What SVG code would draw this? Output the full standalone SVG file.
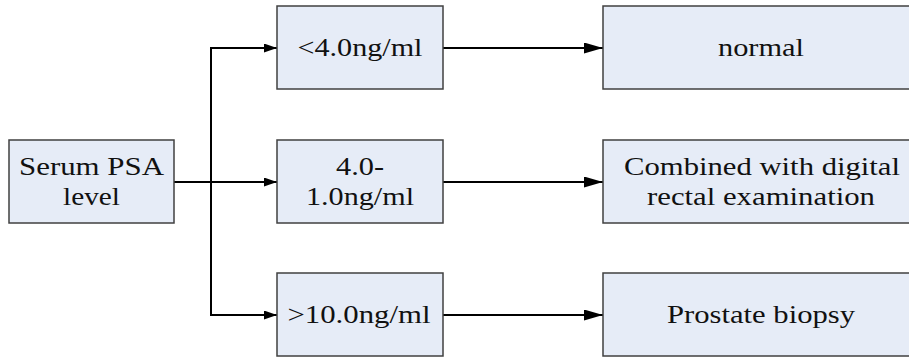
<svg xmlns="http://www.w3.org/2000/svg" width="909" height="358" viewBox="0 0 909 358">
<style>
.box{fill:#E6ECF7;stroke:#404040;stroke-width:1.5}
.t{font-size:26px;fill:#111;text-anchor:middle}
.c{fill:none;stroke:#000;stroke-width:2}
</style>
<defs>
<marker id="aS" markerUnits="userSpaceOnUse" markerWidth="13" markerHeight="10" refX="13" refY="4.5" orient="auto"><path d="M0,0 L13,4.5 L0,9 z" fill="#000"/></marker>
<marker id="aL" markerUnits="userSpaceOnUse" markerWidth="19" markerHeight="12" refX="19" refY="5.5" orient="auto"><path d="M0,0 L19,5.5 L0,11 z" fill="#000"/></marker>
</defs>
<rect width="909" height="358" fill="#fff"/>
<g id="connectors">
<path class="c" d="M174,182 L277,182" marker-end="url(#aS)"/>
<path class="c" d="M211,182 L211,48 L277,48" marker-end="url(#aS)"/>
<path class="c" d="M211,182 L211,315 L277,315" marker-end="url(#aS)"/>
<path class="c" d="M443,48 L603,48" marker-end="url(#aL)"/>
<path class="c" d="M443,182 L603,182" marker-end="url(#aL)"/>
<path class="c" d="M443,315 L603,315" marker-end="url(#aL)"/>
</g>
<g font-family="Liberation Serif, serif">
<g id="serum">
<rect class="box" x="9" y="140" width="165" height="83"/>
<text class="t" x="91.5" y="175" textLength="145" lengthAdjust="spacingAndGlyphs">Serum PSA</text>
<text class="t" x="91.5" y="205" textLength="57" lengthAdjust="spacingAndGlyphs">level</text>
</g>
<g id="lt4">
<rect class="box" x="277" y="6" width="166" height="83"/>
<text class="t" x="360" y="56" textLength="125" lengthAdjust="spacingAndGlyphs">&lt;4.0ng/ml</text>
</g>
<g id="mid">
<rect class="box" x="277" y="140" width="166" height="83"/>
<text class="t" x="360" y="175" textLength="48" lengthAdjust="spacingAndGlyphs">4.0-</text>
<text class="t" x="360" y="205" textLength="108" lengthAdjust="spacingAndGlyphs">1.0ng/ml</text>
</g>
<g id="gt10">
<rect class="box" x="277" y="273" width="166" height="83"/>
<text class="t" x="359" y="323" textLength="143" lengthAdjust="spacingAndGlyphs">&gt;10.0ng/ml</text>
</g>
<g id="normal">
<rect class="box" x="603" y="6" width="318" height="83"/>
<text class="t" x="761" y="56" textLength="86" lengthAdjust="spacingAndGlyphs">normal</text>
</g>
<g id="dre">
<rect class="box" x="603" y="140" width="318" height="83"/>
<text class="t" x="762" y="175" textLength="276" lengthAdjust="spacingAndGlyphs">Combined with digital</text>
<text class="t" x="761" y="205" textLength="228" lengthAdjust="spacingAndGlyphs">rectal examination</text>
</g>
<g id="biopsy">
<rect class="box" x="603" y="273" width="318" height="83"/>
<text class="t" x="761" y="323" textLength="188" lengthAdjust="spacingAndGlyphs">Prostate biopsy</text>
</g>
</g>
</svg>
